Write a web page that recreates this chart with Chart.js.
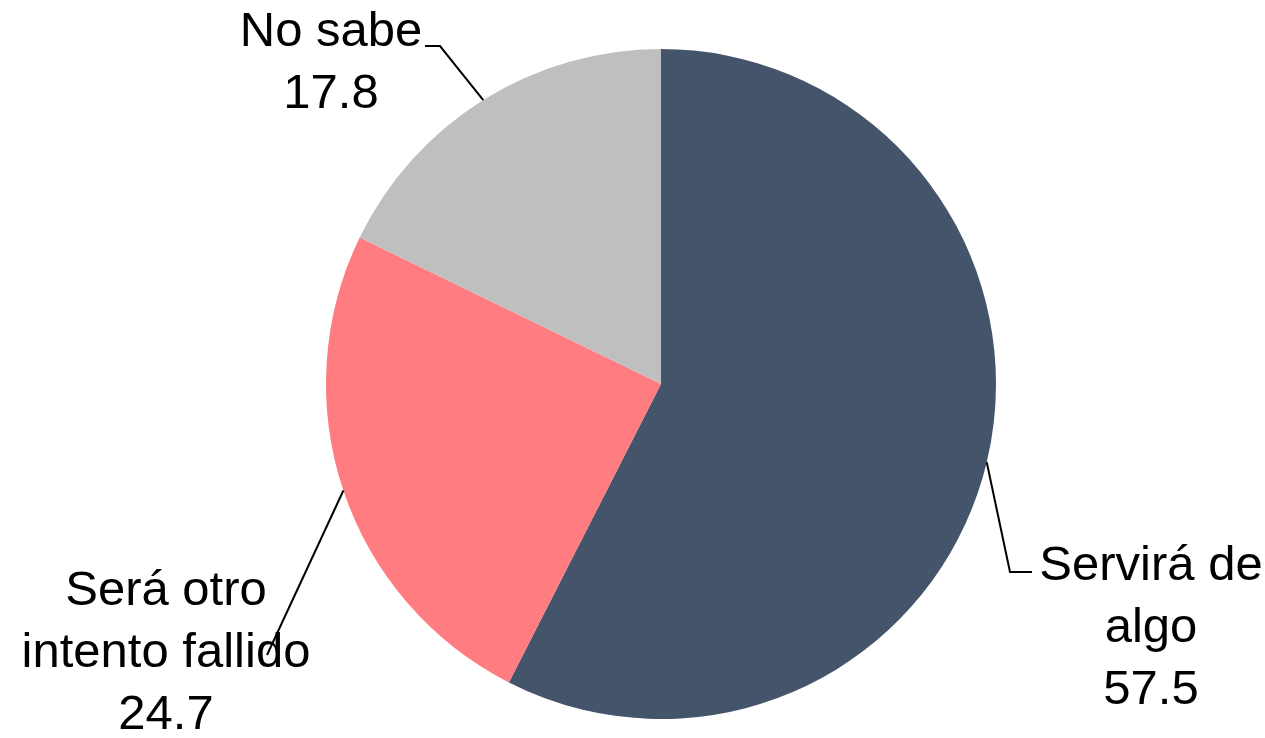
<!DOCTYPE html>
<html>
<head>
<meta charset="utf-8">
<script src="https://cdn.jsdelivr.net/npm/chart.js@4.4.1/dist/chart.umd.min.js"></script>
<style>
  html, body { margin: 0; padding: 0; background: #fff; }
  #wrap { width: 1265px; height: 738px; position: relative; }
</style>
</head>
<body>
<div id="wrap"><canvas id="pie"></canvas></div>
<script>
// datos
const categories = [['Servirá de', 'algo'], ['Será otro', 'intento fallido'], ['No sabe']];
const values = [57.5, 24.7, 17.8];
const colors = ['#44546A', '#FF7C80', '#BFBFBF'];

// posición de las etiquetas (centro x, línea base de la primera línea) y quiebres de la guía
const labelLayout = [
  { x: 1151, y: 580, elbow: [[1010, 572], [1032, 572]] },
  { x: 166, y: 605, elbow: [[267, 655]] },
  { x: 331, y: 46, elbow: [[440, 46], [425, 46]] }
];

const pieLabels = {
  id: 'pieLabels',
  afterDatasetsDraw(chart) {
    const ctx = chart.ctx;
    const meta = chart.getDatasetMeta(0);
    ctx.save();
    meta.data.forEach((arc, i) => {
      const mid = (arc.startAngle + arc.endAngle) / 2;
      const ax = arc.x + Math.cos(mid) * arc.outerRadius;
      const ay = arc.y + Math.sin(mid) * arc.outerRadius;
      const lay = labelLayout[i];

      // línea guía
      ctx.strokeStyle = '#000';
      ctx.lineWidth = 2;
      ctx.beginPath();
      ctx.moveTo(ax, ay);
      lay.elbow.forEach(p => ctx.lineTo(p[0], p[1]));
      ctx.stroke();

      // texto
      const lines = categories[i].concat([values[i].toFixed(1)]);
      ctx.fillStyle = '#000';
      ctx.font = '49px "Liberation Sans", Arial, sans-serif';
      ctx.textAlign = 'center';
      ctx.textBaseline = 'alphabetic';
      lines.forEach((t, k) => ctx.fillText(t, lay.x, lay.y + k * 62));
    });
    ctx.restore();
  }
};

new Chart(document.getElementById('pie'), {
  type: 'pie',
  data: {
    labels: categories.map(c => c.join(' ')),
    datasets: [{
      data: values,
      backgroundColor: colors,
      borderWidth: 0
    }]
  },
  options: {
    responsive: true,
    maintainAspectRatio: false,
    animation: false,
    layout: { padding: { left: 326, right: 269, top: 49, bottom: 19 } },
    plugins: {
      legend: { display: false },
      tooltip: { enabled: false }
    }
  },
  plugins: [pieLabels]
});
</script>
</body>
</html>
